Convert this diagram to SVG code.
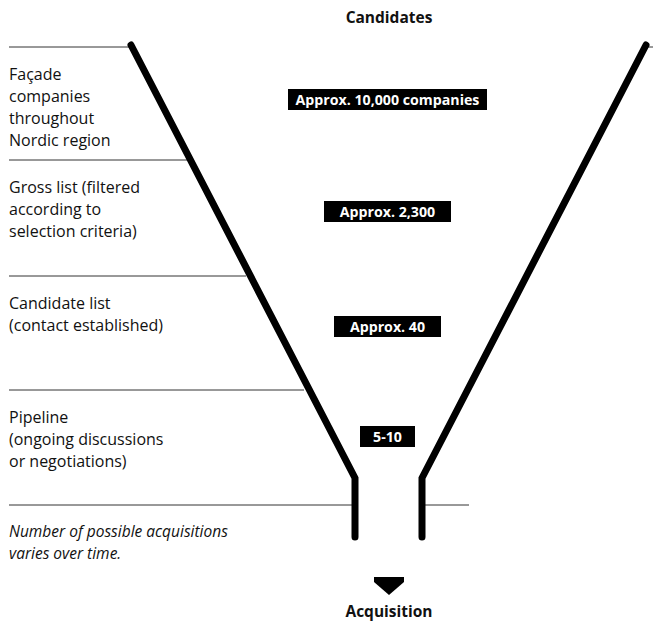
<svg xmlns="http://www.w3.org/2000/svg" width="653" height="621" viewBox="0 0 653 621">
  <style>
    .lbl { font-family: "Open Sans", "Liberation Sans", sans-serif; font-size: 16px; fill: #111; }
    .note { font-family: "Open Sans", "Liberation Sans", sans-serif; font-size: 15.5px; font-style: italic; fill: #111; }
    .title { font-family: "Open Sans", "Liberation Sans", sans-serif; font-size: 15.5px; font-weight: 700; fill: #111; text-anchor: middle; }
    .tag rect { fill: #000; }
    .tag text { font-family: "Open Sans", "Liberation Sans", sans-serif; font-size: 14.2px; font-weight: 700; fill: #fff; text-anchor: middle; }
    .rule { stroke: #333; stroke-width: 1; fill: none; }
    .wall { stroke: #000; stroke-width: 7; fill: none; stroke-linecap: round; stroke-linejoin: miter; }
  </style>

  <!-- stage separators -->
  <g id="rules">
    <line class="rule" x1="9" y1="47" x2="131" y2="47"/>
    <line class="rule" x1="644" y1="47" x2="653" y2="47"/>
    <line class="rule" x1="9" y1="160" x2="188" y2="160"/>
    <line class="rule" x1="9" y1="276" x2="246" y2="276"/>
    <line class="rule" x1="9" y1="390" x2="304" y2="390"/>
    <line class="rule" x1="9" y1="505" x2="353" y2="505"/>
    <line class="rule" x1="424" y1="505" x2="469" y2="505"/>
  </g>

  <!-- funnel walls -->
  <g id="funnel">
    <polyline class="wall" points="131,45 355,478 355,537"/>
    <polyline class="wall" points="646,45 422,478 422,537"/>
  </g>

  <g id="candidates">
    <text class="title" x="389" y="23">Candidates</text>
  </g>

  <g id="stage-facade">
    <text class="lbl" x="9" y="80">Façade</text>
    <text class="lbl" x="9" y="102">companies</text>
    <text class="lbl" x="9" y="124">throughout</text>
    <text class="lbl" x="9" y="146">Nordic region</text>
    <g class="tag">
      <rect x="288" y="89" width="199" height="21"/>
      <text x="387.5" y="104.5">Approx. 10,000 companies</text>
    </g>
  </g>

  <g id="stage-gross">
    <text class="lbl" x="9" y="193">Gross list (filtered</text>
    <text class="lbl" x="9" y="215">according to</text>
    <text class="lbl" x="9" y="237">selection criteria)</text>
    <g class="tag">
      <rect x="324" y="201" width="127" height="21"/>
      <text x="387.5" y="216.5">Approx. 2,300</text>
    </g>
  </g>

  <g id="stage-candidate">
    <text class="lbl" x="9" y="309">Candidate list</text>
    <text class="lbl" x="9" y="331">(contact established)</text>
    <g class="tag">
      <rect x="334" y="316" width="107" height="21"/>
      <text x="387.5" y="331.5">Approx. 40</text>
    </g>
  </g>

  <g id="stage-pipeline">
    <text class="lbl" x="9" y="423">Pipeline</text>
    <text class="lbl" x="9" y="445">(ongoing discussions</text>
    <text class="lbl" x="9" y="467">or negotiations)</text>
    <g class="tag">
      <rect x="360" y="426" width="55" height="21"/>
      <text x="387.5" y="441.5">5-10</text>
    </g>
  </g>

  <g id="note">
    <text class="note" x="9" y="537">Number of possible acquisitions</text>
    <text class="note" x="9" y="559">varies over time.</text>
  </g>

  <g id="acquisition">
    <polygon points="374,577 404,577 404,582 389,595 374,582" fill="#000"/>
    <text class="title" x="389" y="617">Acquisition</text>
  </g>
</svg>
